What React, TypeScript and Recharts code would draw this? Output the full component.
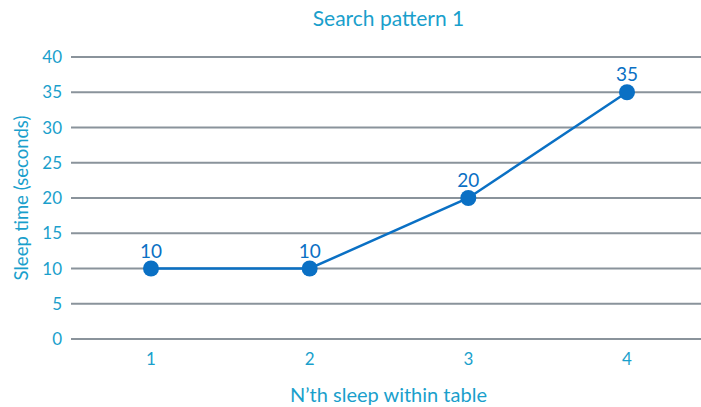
import { CartesianGrid, LabelList, Line, LineChart, XAxis, YAxis } from "recharts";

const categories = ["1", "2", "3", "4"];
const sleepSeconds = [10, 10, 20, 35];
const yTicks = [0, 5, 10, 15, 20, 25, 30, 35, 40];

const data = categories.map((label, i) => ({ label, value: sleepSeconds[i] }));

const TEAL = "#1a9fcc";
const BLUE = "#0a70c4";
const GRID = "#8a939b";
const FONT = "Lato, 'Open Sans', sans-serif";

export default function App() {
  return (
    <div style={{ position: "absolute", left: 0, top: 0, width: 701, height: 407, overflow: "hidden", background: "#fff" }}>
      <div
        style={{
          position: "absolute",
          top: 5,
          left: 71,
          width: 635,
          textAlign: "center",
          color: TEAL,
          fontFamily: FONT,
          fontSize: 21,
        }}
      >
        Search pattern 1
      </div>
      <LineChart
        width={707}
        height={407}
        data={data}
        margin={{ top: 57, right: 1, bottom: 0, left: 0 }}
        style={{ fontFamily: FONT }}
      >
        <CartesianGrid horizontal vertical={false} stroke={GRID} strokeWidth={2} />
        <XAxis
          dataKey="label"
          axisLine={false}
          tickLine={false}
          height={68}
          padding={{ left: 80, right: 79 }}
          tickMargin={8}
          tick={{ fill: TEAL, fontSize: 17 }}
          label={{ value: "N\u2019th sleep within table", position: "insideBottom", offset: 5, fill: TEAL, fontSize: 20 }}
        />
        <YAxis
          domain={[0, 40]}
          ticks={yTicks}
          width={71}
          axisLine={false}
          tickLine={false}
          tickMargin={3}
          tick={{ fill: TEAL, fontSize: 17 }}
          label={{
            value: "Sleep time (seconds)",
            angle: -90,
            position: "center",
            dx: -14,
            fill: TEAL,
            fontSize: 18.5,
          }}
        />
        <Line
          dataKey="value"
          stroke={BLUE}
          strokeWidth={2.5}
          dot={{ r: 8, fill: BLUE, stroke: BLUE, strokeWidth: 0 }}
          isAnimationActive={false}
        >
          <LabelList dataKey="value" position="top" offset={11} fill={BLUE} fontSize={19} />
        </Line>
      </LineChart>
    </div>
  );
}
